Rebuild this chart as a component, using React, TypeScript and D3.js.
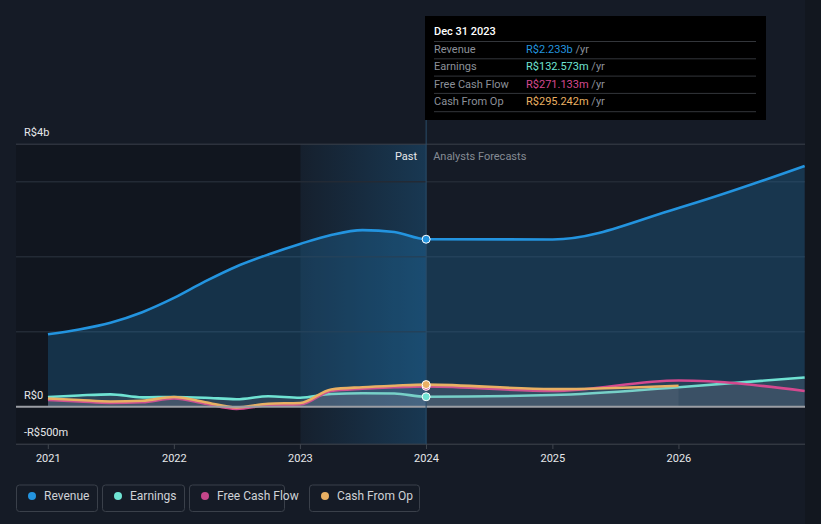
import * as d3 from 'd3';
import { useEffect } from 'react';

const W = 821;
const H = 524;

// values in R$ billions
const pastDates = [
  '2020-12-31', '2021-03-31', '2021-06-30', '2021-09-30', '2021-12-31', '2022-03-31', '2022-06-30',
  '2022-09-30', '2022-12-31', '2023-03-31', '2023-06-30', '2023-09-30', '2023-12-31',
];
const revenuePast = [0.965, 1.03, 1.12, 1.26, 1.45, 1.67, 1.87, 2.03, 2.17, 2.29, 2.355, 2.33, 2.233];
const earningsPast = [0.13, 0.15, 0.165, 0.125, 0.13, 0.12, 0.1, 0.14, 0.12, 0.17, 0.18, 0.175, 0.1326];
const fcfPast = [0.09, 0.07, 0.05, 0.06, 0.11, 0.04, -0.03, 0.02, 0.03, 0.21, 0.24, 0.26, 0.271];
const cfoPast = [0.11, 0.09, 0.07, 0.08, 0.13, 0.06, -0.01, 0.04, 0.05, 0.23, 0.26, 0.28, 0.295];

const forecastDates = ['2023-12-31', '2024-12-31', '2025-12-31', '2026-12-31'];
const revenueForecast = [2.233, 2.23, 2.65, 3.21];
const earningsForecast = [0.1326, 0.155, 0.26, 0.39];
const fcfForecast = [0.271, 0.21, 0.35, 0.21];
const cfoForecast = [0.295, 0.235, 0.28];

const yearTicks = ['2021', '2022', '2023', '2024', '2025', '2026'];
const yLabels = [
  { v: 3.5, t: 'R$4b' },
  { v: 0, t: 'R$0' },
  { v: -0.5, t: '-R$500m' },
];
const gridValues = [1, 2, 3];

const tooltipRows = [
  { label: 'Revenue', value: 'R$2.233b', color: '#2394df' },
  { label: 'Earnings', value: 'R$132.573m', color: '#6fe3d3' },
  { label: 'Free Cash Flow', value: 'R$271.133m', color: '#d4498f' },
  { label: 'Cash From Op', value: 'R$295.242m', color: '#e9b063' },
];

const legend = [
  { label: 'Revenue', color: '#2394df', x: 16, w: 81 },
  { label: 'Earnings', color: '#6fe3d3', x: 102, w: 82 },
  { label: 'Free Cash Flow', color: '#c5468a', x: 189, w: 95 },
  { label: 'Cash From Op', color: '#e9b063', x: 309, w: 110 },
];

type Pt = { d: Date; v: number };
const parse = d3.timeParse('%Y-%m-%d');
const build = (dates: string[], vals: number[]): Pt[] => vals.map((v, i) => ({ d: parse(dates[i])!, v }));

const series = [
  { key: 'rev', color: '#2394df', fill: 'rgba(35,148,223,0.22)', data: [...build(pastDates, revenuePast), ...build(forecastDates, revenueForecast).slice(1)] },
  { key: 'earn', color: '#6fe3d3', fill: 'rgba(150,150,165,0.18)', data: [...build(pastDates, earningsPast), ...build(forecastDates, earningsForecast).slice(1)] },
  { key: 'fcf', color: '#d4498f', fill: 'rgba(150,150,165,0.12)', data: [...build(pastDates, fcfPast), ...build(forecastDates, fcfForecast).slice(1)] },
  { key: 'cfo', color: '#e9b063', fill: 'rgba(150,150,165,0.12)', data: [...build(pastDates, cfoPast), ...build(forecastDates, cfoForecast).slice(1)] },
];

export default function App() {
  useEffect(() => {
    document.body.style.margin = '0';
  }, []);

  const x = d3.scaleTime().domain([new Date(2021, 0, 1), new Date(2027, 0, 1)]).range([48.3, 805]);
  const y = d3.scaleLinear().domain([-0.5, 3.5]).range([444.2, 144.2]);

  const line = d3.line<Pt>().x((p) => x(p.d)).y((p) => y(p.v)).curve(d3.curveMonotoneX);
  const area = d3.area<Pt>().x((p) => x(p.d)).y0(y(0)).y1((p) => y(p.v)).curve(d3.curveMonotoneX);

  const now = parse('2023-12-31')!;
  const xNow = x(now);
  const x2023 = x(new Date(2023, 0, 1));
  const font = 'Roboto, "Open Sans", sans-serif';

  return (
    <svg width={W} height={H} style={{ display: 'block', background: '#151b26', fontFamily: font }}>
      <defs>
        <linearGradient id="hl" x1="0" x2="1" y1="0" y2="0">
          <stop offset="0" stopColor="#2394df" stopOpacity={0.04} />
          <stop offset="1" stopColor="#2394df" stopOpacity={0.24} />
        </linearGradient>
      </defs>
      <rect x={805} y={0} width={16} height={H} fill="#12171f" />
      {/* past region */}
      <rect x={16} y={144.2} width={x2023 - 16} height={300} fill="#0d1017" opacity={0.4} />
      <rect x={x2023} y={144.2} width={xNow - x2023} height={300} fill="url(#hl)" />

      {/* grid */}
      <line x1={16} x2={805} y1={144.2} y2={144.2} stroke="#3b414b" />
      {gridValues.map((g) => (
        <line key={g} x1={16} x2={805} y1={y(g)} y2={y(g)} stroke="#232a35" strokeWidth={1.5} />
      ))}
      <line x1={16} x2={805} y1={444.2} y2={444.2} stroke="#40464f" />
      {yearTicks.map((t) => {
        const xx = x(new Date(+t, 0, 1));
        return (
          <g key={t}>
            <line x1={xx} x2={xx} y1={444.2} y2={449} stroke="#40464f" />
            <text x={xx} y={462} fill="#e6e8ea" fontSize={11} textAnchor="middle">{t}</text>
          </g>
        );
      })}

      {/* series */}
      {series.map((s) => (
        <g key={s.key}>
          <path d={area(s.data) ?? ''} fill={s.fill} />
          <path d={line(s.data) ?? ''} fill="none" stroke={s.color} strokeWidth={2.6} />
        </g>
      ))}
      <line x1={16} x2={805} y1={y(0)} y2={y(0)} stroke="#9b9ea4" strokeWidth={2} />

      {yLabels.map((l) => (
        <text key={l.t} x={24} y={l.v === 3.5 ? 136 : y(l.v) - 8} fill="#e6e8ea" fontSize={11}>{l.t}</text>
      ))}

      <text x={xNow - 9} y={160} fill="#e6e8ea" fontSize={11} textAnchor="end">Past</text>
      <text x={xNow + 7} y={160} fill="#858b94" fontSize={11}>Analysts Forecasts</text>

      {/* hover line + dots */}
      <line x1={xNow} x2={xNow} y1={120} y2={444.2} stroke="#2a4d6a" strokeWidth={1} />
      <circle cx={xNow} cy={y(2.233)} r={4} fill="#2394df" stroke="#fff" strokeWidth={1} />
      <circle cx={xNow} cy={y(0.1326)} r={4} fill="#6fe3d3" stroke="#fff" strokeWidth={1} />
      <circle cx={xNow} cy={y(0.271)} r={4} fill="#d4498f" stroke="#fff" strokeWidth={1} />
      <circle cx={xNow} cy={y(0.295)} r={4} fill="#e9b063" stroke="#fff" strokeWidth={1} />

      {/* tooltip */}
      <g transform="translate(425,16)">
        <rect x={0} y={0} width={341} height={104} fill="#000" />
        <text x={9} y={19} fill="#fff" fontSize={11} fontWeight={500}>Dec 31 2023</text>
        {tooltipRows.map((r, i) => (
          <g key={r.label}>
            <line x1={9} x2={331} y1={25.5 + i * 17.3} y2={25.5 + i * 17.3} stroke="#33363b" />
            <text x={9} y={37 + i * 17.3} fill="#8c9099" fontSize={11}>{r.label}</text>
            <text x={101} y={37 + i * 17.3} fontSize={11}>
              <tspan fill={r.color}>{r.value}</tspan>
              <tspan fill="#8c9099"> /yr</tspan>
            </text>
          </g>
        ))}
        <line x1={9} x2={331} y1={95.7} y2={95.7} stroke="#33363b" />
      </g>

      {/* legend */}
      {legend.map((l) => (
        <g key={l.label} transform={`translate(${l.x},484.5)`}>
          <rect x={0.5} y={0.5} width={l.w} height={26.5} rx={3} fill="none" stroke="#3a404a" />
          <circle cx={16} cy={11.5} r={4} fill={l.color} />
          <text x={28} y={15.5} fill="#cfd2d6" fontSize={12}>{l.label}</text>
        </g>
      ))}
    </svg>
  );
}
